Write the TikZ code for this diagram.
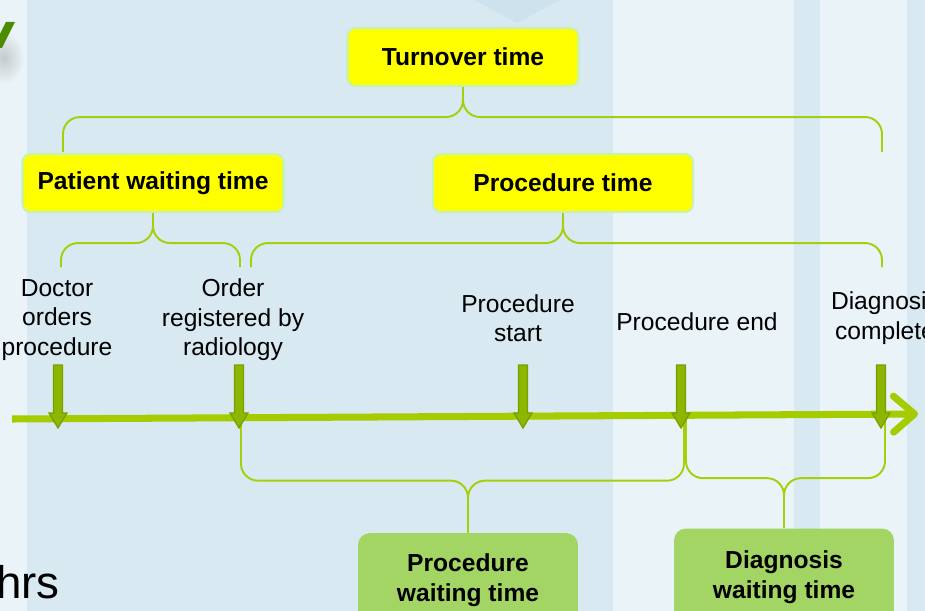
\documentclass[tikz,border=0pt]{standalone}
\usepackage{fontspec}
\setmainfont{Liberation Sans}
\usetikzlibrary{positioning, arrows.meta, shapes}

\definecolor{bgdark}{HTML}{D8E9F1}
\definecolor{bglight}{HTML}{EAF3F7}
\definecolor{bgtri}{HTML}{CDE2EC}
\definecolor{brgreen}{HTML}{A6CF0A}
\definecolor{tlgreen}{HTML}{A4CC00}
\definecolor{mkfill}{HTML}{8DB600}
\definecolor{mkline}{HTML}{76A000}
\definecolor{boxyellow}{HTML}{FFFF00}
\definecolor{boxedge}{HTML}{C6F2B2}
\definecolor{boxgreen}{HTML}{A2D564}
\definecolor{titlegreen}{HTML}{4C8C00}

\begin{document}
\begin{tikzpicture}[x=0.02cm, y=-0.02cm,
    ybox/.style = {rectangle, rounded corners=0.16cm, fill=boxyellow,
      draw=boxedge, line width=1.2pt, minimum width=#1,
      minimum height=1.16cm, inner sep=0pt,
      font=\fontsize{14}{16.8}\selectfont\bfseries},
    gbox/.style = {rectangle, rounded corners=0.24cm, fill=boxgreen,
      minimum width=4.4cm, minimum height=#1, inner sep=0pt, align=center,
      font=\fontsize{14}{17}\selectfont\bfseries},
    evlabel/.style = {align=center, inner sep=0pt,
      font=\fontsize{14}{16.8}\selectfont},
    tbrace/.style = {draw=brgreen, line width=1.1pt, rounded corners=0.34cm},
    timeline/.style = {draw=tlgreen, line width=4pt,
      -{Straight Barb[length=0.42cm, width=0.72cm, round]}},
    marker/.style = {fill=mkfill, draw=mkline, line width=0.7pt},
  ]
\useasboundingbox (0,0) rectangle (925,611);
\clip (0,0) rectangle (925,611);

% slide background
\fill[bglight] (0,0) rectangle (925,611);
\fill[bgdark] (27,0) rectangle (613,611);
\fill[bgdark] (794,0) rectangle (820,611);
\fill[bgdark] (907,0) rectangle (925,611);
\fill[bgtri] (474,0) -- (517,23) -- (560,0) -- cycle;

% bits of the slide title and text
\shade[inner color=gray!35!bglight, outer color=bglight] (4,58) ellipse (20 and 26);
\fill[titlegreen] (6,22) -- (15,22) -- (2,48) -- (0,48) -- (0,34) -- cycle;
\node[anchor=base east, inner sep=0pt, font=\fontsize{26}{30}\selectfont] (hrs) at (60,598) {hrs};

% boxes
\node[ybox=4.62cm] (turn) at (463,57) {Turnover time};
\node[ybox=5.22cm] (pwt) at (153,183) {Patient waiting time};
\node[ybox=5.2cm] (proc) at (563,183) {Procedure time};
\node[gbox=1.88cm] (pwait) at (468,580) {Procedure\\waiting time};
\node[gbox=1.94cm] (dwait) at (784,577) {Diagnosis\\waiting time};

% events
\node[evlabel] (doc) at (57,320) {Doctor\\orders\\procedure};
\node[evlabel] (reg) at (233,320) {Order\\registered by\\radiology};
\node[evlabel] (pst) at (518,318) {Procedure\\start};
\node[evlabel] (pend) at (697,322) {Procedure end};
\node[evlabel] (diag) at (885,318) {Diagnosis\\complete};

% brace ends
\coordinate (b1) at (63,152);
\coordinate (b2) at (882,152);
\coordinate (b3) at (61,267);
\coordinate (b4) at (240,267);
\coordinate (b5) at (251,267);
\coordinate (b6) at (882,267);
\coordinate (b7) at (241,420);
\coordinate (b8) at (684,420);
\coordinate (b9) at (686,420);
\coordinate (b10) at (885,420);

\draw[tbrace] (b1) |- ([yshift=-0.6cm]turn.south) -- (turn.south);
\draw[tbrace] (b2) |- ([yshift=-0.6cm]turn.south) -- (turn.south);
\draw[tbrace] (b3) |- ([yshift=-0.6cm]pwt.south) -- (pwt.south);
\draw[tbrace] (b4) |- ([yshift=-0.6cm]pwt.south) -- (pwt.south);
\draw[tbrace] (b5) |- ([yshift=-0.6cm]proc.south) -- (proc.south);
\draw[tbrace] (b6) |- ([yshift=-0.6cm]proc.south) -- (proc.south);
\draw[tbrace] (b7) |- ([yshift=1.04cm]pwait.north) -- (pwait.north);
\draw[tbrace] (b8) |- ([yshift=1.04cm]pwait.north) -- (pwait.north);
\draw[tbrace] (b9) |- ([yshift=1cm]dwait.north) -- (dwait.north);
\draw[tbrace] (b10) |- ([yshift=1cm]dwait.north) -- (dwait.north);

% time line
\coordinate (tl0) at (12,419);
\coordinate (tl1) at (918,414);
\draw[timeline] (tl0) -- (tl1);

% event markers
\coordinate (m1) at (58,365);
\coordinate (m2) at (239,365);
\coordinate (m3) at (523,365);
\coordinate (m4) at (681,365);
\coordinate (m5) at (881,365);
\foreach \m in {m1,m2,m3,m4,m5}
  \filldraw[marker, shift={(\m)}] (-4.5,0) -- (4.5,0) -- (4.5,48) -- (9,48)
    -- (0,63) -- (-9,48) -- (-4.5,48) -- cycle;
\end{tikzpicture}
\end{document}
